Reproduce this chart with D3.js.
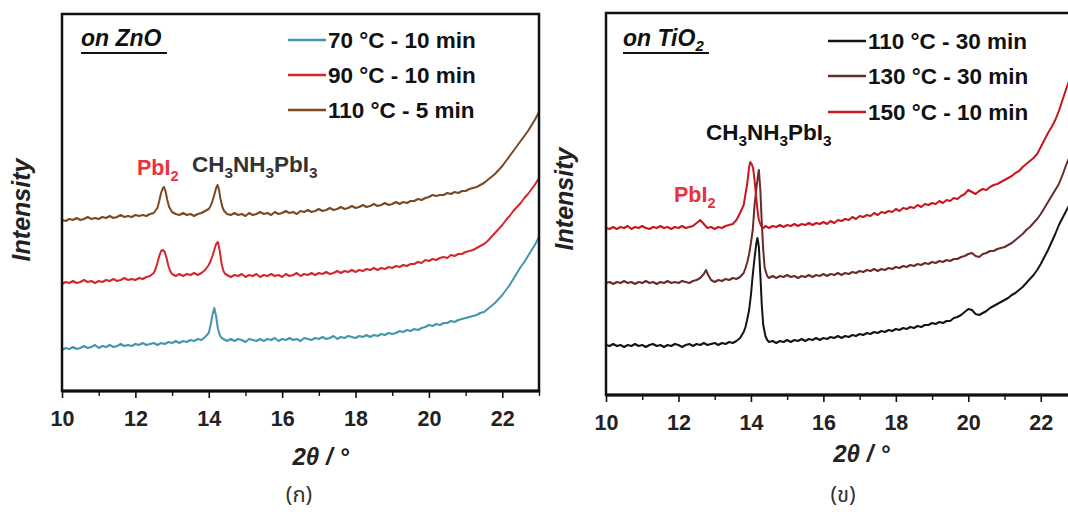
<!DOCTYPE html>
<html><head><meta charset="utf-8">
<script src="https://cdn.jsdelivr.net/npm/d3@7"></script>
<style>
html,body{margin:0;padding:0;background:#fff;}
svg{display:block;font-family:"Liberation Sans",Arial,sans-serif;}
</style></head>
<body><svg id="c" width="1068" height="515"></svg>
<script>
// ---------- DATA ----------
const majorTicks = [10,12,14,16,18,20,22];
const minorTicks = [11,13,15,17,19,21,23];

const znoLabels = ["70 °C - 10 min","90 °C - 10 min","110 °C - 5 min"];
const znoColors = ["#4396ac","#d3272d","#7a4822"];
const tioLabels = ["110 °C - 30 min","130 °C - 30 min","150 °C - 10 min"];
const tioColors = ["#141414","#6b2b2b","#c9151d"];

// ZnO, 70 °C - 10 min
const zno70 = [[10.0,41],[10.1,43],[10.2,42],[10.3,44],[10.4,42],[10.5,43],[10.6,45],[10.7,43],[10.8,44],[10.9,46],[11.0,43],[11.1,45],[11.2,44],[11.3,46],[11.4,44],[11.5,45],[11.6,47],[11.7,45],[11.8,46],[11.9,45],[12.0,47],[12.1,46],[12.2,48],[12.3,46],[12.4,47],[12.5,48],[12.6,46],[12.7,48],[12.8,47],[12.9,49],[13.0,48],[13.1,50],[13.2,48],[13.3,50],[13.4,49],[13.5,51],[13.6,50],[13.7,52],[13.8,51],[13.9,54],[14.0,58],[14.05,66],[14.1,76],[14.15,83],[14.2,75],[14.25,62],[14.3,56],[14.35,53],[14.4,52],[14.5,50],[14.6,52],[14.7,50],[14.8,52],[14.9,51],[15.0,49],[15.1,52],[15.2,51],[15.3,50],[15.4,52],[15.5,50],[15.6,52],[15.7,51],[15.8,53],[15.9,50],[16.0,52],[16.1,51],[16.2,53],[16.3,51],[16.4,52],[16.5,50],[16.6,53],[16.7,52],[16.8,51],[16.9,53],[17.0,52],[17.1,54],[17.2,52],[17.3,53],[17.4,55],[17.5,52],[17.6,54],[17.7,53],[17.8,55],[17.9,54],[18.0,53],[18.1,55],[18.2,54],[18.3,56],[18.4,54],[18.5,56],[18.6,55],[18.7,57],[18.8,56],[18.9,58],[19.0,57],[19.1,58],[19.2,60],[19.3,59],[19.4,61],[19.5,60],[19.6,62],[19.7,61],[19.8,63],[19.9,64],[20.0,66],[20.1,65],[20.2,67],[20.3,66],[20.4,68],[20.5,68],[20.6,70],[20.7,69],[20.8,71],[20.9,72],[21.0,73],[21.1,74],[21.2,75],[21.3,76],[21.4,78],[21.5,79],[21.6,82],[21.7,85],[21.8,88],[21.9,92],[22.0,96],[22.1,101],[22.2,106],[22.3,112],[22.4,118],[22.5,124],[22.6,129],[22.7,135],[22.8,141],[22.9,147],[23.0,154]];

// ZnO, 90 °C - 10 min
const zno90 = [[10.0,107],[10.1,109],[10.2,108],[10.3,110],[10.4,108],[10.5,109],[10.6,111],[10.7,109],[10.8,110],[10.9,108],[11.0,110],[11.1,109],[11.2,111],[11.3,110],[11.4,112],[11.5,110],[11.6,111],[11.7,113],[11.8,111],[11.9,112],[12.0,111],[12.1,113],[12.2,112],[12.3,114],[12.4,115],[12.5,118],[12.55,122],[12.6,128],[12.65,135],[12.7,140],[12.75,141],[12.8,139],[12.85,133],[12.9,125],[12.95,120],[13.0,117],[13.1,115],[13.2,117],[13.3,115],[13.4,117],[13.5,116],[13.6,118],[13.7,116],[13.8,118],[13.9,121],[14.0,126],[14.05,130],[14.1,135],[14.15,141],[14.2,147],[14.25,149],[14.3,140],[14.35,127],[14.4,120],[14.45,117],[14.5,116],[14.6,114],[14.7,116],[14.8,115],[14.9,117],[15.0,114],[15.1,116],[15.2,115],[15.3,117],[15.4,114],[15.5,116],[15.6,115],[15.7,117],[15.8,115],[15.9,116],[16.0,114],[16.1,117],[16.2,115],[16.3,116],[16.4,118],[16.5,115],[16.6,117],[16.7,116],[16.8,118],[16.9,116],[17.0,118],[17.1,117],[17.2,119],[17.3,117],[17.4,118],[17.5,120],[17.6,118],[17.7,120],[17.8,119],[17.9,121],[18.0,119],[18.1,121],[18.2,120],[18.3,122],[18.4,121],[18.5,123],[18.6,121],[18.7,123],[18.8,122],[18.9,124],[19.0,123],[19.1,125],[19.2,124],[19.3,126],[19.4,125],[19.5,127],[19.6,127],[19.7,129],[19.8,128],[19.9,131],[20.0,130],[20.1,132],[20.2,131],[20.3,133],[20.4,134],[20.5,133],[20.6,136],[20.7,135],[20.8,137],[20.9,137],[21.0,139],[21.1,140],[21.2,141],[21.3,143],[21.4,145],[21.5,147],[21.6,150],[21.7,154],[21.8,158],[21.9,162],[22.0,166],[22.1,171],[22.2,175],[22.3,180],[22.4,184],[22.5,188],[22.6,193],[22.7,197],[22.8,202],[22.9,207],[23.0,213]];

// ZnO, 110 °C - 5 min
const zno110 = [[10.0,171],[10.1,170],[10.2,172],[10.3,171],[10.4,173],[10.5,171],[10.6,172],[10.7,174],[10.8,172],[10.9,173],[11.0,172],[11.1,174],[11.2,173],[11.3,175],[11.4,173],[11.5,174],[11.6,176],[11.7,174],[11.8,175],[11.9,174],[12.0,176],[12.1,175],[12.2,176],[12.3,175],[12.4,177],[12.5,178],[12.6,183],[12.65,190],[12.7,198],[12.75,203],[12.78,204],[12.82,200],[12.87,191],[12.92,184],[13.0,179],[13.1,177],[13.2,176],[13.3,178],[13.4,176],[13.5,177],[13.6,175],[13.7,177],[13.8,178],[13.9,180],[14.0,182],[14.05,185],[14.1,190],[14.15,196],[14.2,203],[14.24,206],[14.28,201],[14.32,192],[14.37,184],[14.42,180],[14.5,177],[14.6,176],[14.7,178],[14.8,176],[14.9,177],[15.0,175],[15.1,178],[15.2,176],[15.3,177],[15.4,179],[15.5,177],[15.6,178],[15.7,176],[15.8,179],[15.9,177],[16.0,178],[16.1,180],[16.2,178],[16.3,179],[16.4,177],[16.5,180],[16.6,179],[16.7,181],[16.8,179],[16.9,180],[17.0,182],[17.1,180],[17.2,181],[17.3,183],[17.4,181],[17.5,182],[17.6,184],[17.7,182],[17.8,183],[17.9,185],[18.0,183],[18.1,184],[18.2,186],[18.3,184],[18.4,185],[18.5,187],[18.6,185],[18.7,186],[18.8,188],[18.9,186],[19.0,187],[19.1,189],[19.2,187],[19.3,189],[19.4,188],[19.5,190],[19.6,190],[19.7,192],[19.8,191],[19.9,193],[20.0,194],[20.1,196],[20.2,195],[20.3,196],[20.4,196],[20.5,198],[20.6,197],[20.7,199],[20.8,198],[20.9,200],[21.0,200],[21.1,202],[21.2,203],[21.3,204],[21.4,206],[21.5,208],[21.6,211],[21.7,214],[21.8,217],[21.9,221],[22.0,225],[22.1,230],[22.2,235],[22.3,240],[22.4,245],[22.5,250],[22.6,255],[22.7,260],[22.8,266],[22.9,272],[23.0,279]];

// TiO2, 110 °C - 30 min
const tio110 = [[10.0,50],[10.1,49],[10.2,51],[10.3,49],[10.4,50],[10.5,48],[10.6,50],[10.7,49],[10.8,51],[10.9,49],[11.0,50],[11.1,48],[11.2,50],[11.3,51],[11.4,49],[11.5,50],[11.6,48],[11.7,50],[11.8,49],[11.9,51],[12.0,50],[12.1,48],[12.2,50],[12.3,51],[12.4,49],[12.5,51],[12.6,50],[12.7,52],[12.8,50],[12.9,51],[13.0,52],[13.1,50],[13.2,52],[13.3,51],[13.4,53],[13.5,52],[13.6,54],[13.7,57],[13.75,60],[13.8,63],[13.85,68],[13.9,76],[13.95,85],[14.0,100],[14.05,120],[14.1,137],[14.15,152],[14.18,157],[14.22,148],[14.26,120],[14.3,90],[14.34,70],[14.4,59],[14.45,55],[14.5,53],[14.6,54],[14.7,52],[14.8,54],[14.9,53],[15.0,55],[15.1,53],[15.2,55],[15.3,54],[15.4,56],[15.5,54],[15.6,56],[15.7,55],[15.8,57],[15.9,55],[16.0,57],[16.1,56],[16.2,58],[16.3,57],[16.4,59],[16.5,57],[16.6,59],[16.7,58],[16.8,60],[16.9,59],[17.0,61],[17.1,60],[17.2,62],[17.3,61],[17.4,63],[17.5,62],[17.6,64],[17.7,63],[17.8,65],[17.9,64],[18.0,66],[18.1,65],[18.2,67],[18.3,66],[18.4,68],[18.5,67],[18.6,69],[18.7,68],[18.8,70],[18.9,70],[19.0,72],[19.1,71],[19.2,73],[19.3,72],[19.4,74],[19.5,74],[19.6,77],[19.7,78],[19.8,80],[19.9,83],[20.0,86],[20.1,85],[20.2,81],[20.3,80],[20.4,82],[20.5,84],[20.6,87],[20.7,89],[20.8,91],[20.9,93],[21.0,95],[21.1,97],[21.2,100],[21.3,102],[21.4,105],[21.5,108],[21.6,112],[21.7,116],[21.8,120],[21.9,125],[22.0,131],[22.1,138],[22.2,145],[22.3,153],[22.4,161],[22.5,170],[22.6,177],[22.7,184],[22.8,191],[22.9,198],[23.0,205]];

// TiO2, 130 °C - 30 min
const tio130 = [[10.0,112],[10.1,113],[10.2,111],[10.3,113],[10.4,112],[10.5,114],[10.6,112],[10.7,113],[10.8,111],[10.9,113],[11.0,112],[11.1,114],[11.2,112],[11.3,113],[11.4,111],[11.5,113],[11.6,112],[11.7,114],[11.8,112],[11.9,113],[12.0,112],[12.1,114],[12.2,113],[12.3,112],[12.4,114],[12.5,115],[12.6,117],[12.7,121],[12.76,125],[12.82,120],[12.9,115],[13.0,113],[13.1,115],[13.2,114],[13.3,116],[13.4,115],[13.5,117],[13.6,116],[13.7,118],[13.8,122],[13.85,127],[13.9,133],[13.95,141],[14.0,152],[14.05,165],[14.1,190],[14.15,206],[14.19,218],[14.22,225],[14.26,205],[14.3,172],[14.34,145],[14.38,127],[14.45,119],[14.5,117],[14.6,119],[14.7,117],[14.8,119],[14.9,118],[15.0,120],[15.1,118],[15.2,119],[15.3,117],[15.4,119],[15.5,118],[15.6,120],[15.7,118],[15.8,120],[15.9,119],[16.0,121],[16.1,119],[16.2,121],[16.3,120],[16.4,122],[16.5,120],[16.6,122],[16.7,121],[16.8,123],[16.9,122],[17.0,124],[17.1,123],[17.2,125],[17.3,124],[17.4,126],[17.5,124],[17.6,126],[17.7,125],[17.8,127],[17.9,126],[18.0,128],[18.1,127],[18.2,129],[18.3,128],[18.4,130],[18.5,129],[18.6,131],[18.7,130],[18.8,132],[18.9,131],[19.0,133],[19.1,132],[19.2,134],[19.3,133],[19.4,135],[19.5,134],[19.6,136],[19.7,136],[19.8,138],[19.9,139],[20.0,141],[20.1,142],[20.2,139],[20.3,138],[20.4,141],[20.5,142],[20.6,144],[20.7,144],[20.8,146],[20.9,147],[21.0,148],[21.1,150],[21.2,152],[21.3,155],[21.4,158],[21.5,161],[21.6,165],[21.7,168],[21.8,172],[21.9,176],[22.0,181],[22.1,187],[22.2,193],[22.3,199],[22.4,205],[22.5,211],[22.6,220],[22.7,230],[22.8,239],[22.9,247],[23.0,255]];

// TiO2, 150 °C - 10 min
const tio150 = [[10.0,167],[10.1,166],[10.2,168],[10.3,166],[10.4,168],[10.5,167],[10.6,169],[10.7,166],[10.8,168],[10.9,167],[11.0,169],[11.1,167],[11.2,166],[11.3,168],[11.4,167],[11.5,169],[11.6,167],[11.7,168],[11.8,166],[11.9,168],[12.0,167],[12.1,169],[12.2,167],[12.3,168],[12.4,169],[12.5,172],[12.6,175],[12.7,171],[12.8,167],[12.9,168],[13.0,166],[13.1,168],[13.2,167],[13.3,169],[13.4,170],[13.5,171],[13.6,175],[13.7,182],[13.75,186],[13.8,190],[13.85,201],[13.9,212],[13.95,228],[13.98,233],[14.02,231],[14.06,227],[14.1,215],[14.14,200],[14.18,185],[14.22,175],[14.28,169],[14.35,167],[14.4,169],[14.5,167],[14.6,169],[14.7,168],[14.8,170],[14.9,168],[15.0,170],[15.1,169],[15.2,171],[15.3,169],[15.4,171],[15.5,170],[15.6,172],[15.7,170],[15.8,172],[15.9,171],[16.0,173],[16.1,171],[16.2,174],[16.3,172],[16.4,175],[16.5,174],[16.6,176],[16.7,175],[16.8,178],[16.9,176],[17.0,179],[17.1,178],[17.2,180],[17.3,179],[17.4,182],[17.5,180],[17.6,183],[17.7,182],[17.8,184],[17.9,183],[18.0,186],[18.1,184],[18.2,187],[18.3,186],[18.4,188],[18.5,187],[18.6,190],[18.7,188],[18.8,191],[18.9,190],[19.0,192],[19.1,191],[19.2,194],[19.3,192],[19.4,195],[19.5,194],[19.6,197],[19.7,196],[19.8,199],[19.9,201],[20.0,205],[20.1,203],[20.2,201],[20.3,204],[20.4,206],[20.5,205],[20.6,208],[20.7,210],[20.8,211],[20.9,213],[21.0,215],[21.1,217],[21.2,219],[21.3,222],[21.4,224],[21.5,228],[21.6,231],[21.7,234],[21.8,237],[21.9,241],[22.0,248],[22.1,255],[22.2,262],[22.3,268],[22.4,275],[22.5,284],[22.6,295],[22.7,306],[22.8,316],[22.9,324],[23.0,332]];

// ---------- DRAW ----------
const svg = d3.select("#c");

function panel(cfg){
  const x = d3.scaleLinear().domain([10,23]).range(cfg.xr);
  const y = d3.scaleLinear().domain([0,cfg.ymax]).range(cfg.yr);
  const g = svg.append("g");
  const cid = "clip"+cfg.id;
  svg.append("clipPath").attr("id",cid).append("rect")
    .attr("x",cfg.xr[0]).attr("y",cfg.yr[1]).attr("width",cfg.xr[1]-cfg.xr[0]).attr("height",cfg.yr[0]-cfg.yr[1]);
  const line = d3.line().x(d=>x(d[0])).y(d=>y(d[1]));
  const lg = g.append("g").attr("clip-path",`url(#${cid})`);
  cfg.series.forEach((s,i)=>{
    lg.append("path").datum(s).attr("d",line).attr("fill","none")
      .attr("stroke",cfg.colors[i]).attr("stroke-width",2).attr("stroke-linejoin","round");
  });
  // frame
  g.append("rect").attr("x",x(10)).attr("y",y(cfg.ymax)).attr("width",x(23)-x(10)).attr("height",y(0)-y(cfg.ymax))
    .attr("fill","none").attr("stroke","#111").attr("stroke-width",2.5);
  // axes
  const ax = g.append("g").attr("transform",`translate(0,${y(0)})`)
    .call(d3.axisBottom(x).tickValues(majorTicks).tickSize(7).tickPadding(13).tickFormat(d3.format("d")));
  ax.select(".domain").remove();
  ax.selectAll(".tick line").attr("stroke","#111").attr("stroke-width",1.6);
  ax.selectAll(".tick text").attr("font-size",21.5).attr("font-weight","bold").attr("fill","#222")
    .attr("font-family","Liberation Sans, Arial, sans-serif");
  const mx = g.append("g").attr("transform",`translate(0,${y(0)})`)
    .call(d3.axisBottom(x).tickValues(minorTicks).tickSize(5).tickFormat(""));
  mx.select(".domain").remove();
  mx.selectAll(".tick line").attr("stroke","#111").attr("stroke-width",1.4);
  g.append("line").attr("x1",x(10)).attr("x2",x(23)).attr("y1",y(0)).attr("y2",y(0))
    .attr("stroke","#111").attr("stroke-width",3);
  // axis title
  const t = g.append("text").attr("x",x(17.05)).attr("y",cfg.titleY).attr("text-anchor","middle")
    .attr("font-size",24).attr("font-weight","bold").attr("font-style","italic").attr("fill","#222");
  t.text("2θ / °");
  // y title
  g.append("text").attr("transform",`translate(${cfg.ylabX},${cfg.ylabY}) rotate(-90)`)
    .attr("text-anchor","middle").attr("font-size",25).attr("font-weight","bold").attr("font-style","italic")
    .attr("fill","#222").text("Intensity");
  // panel letter
  g.append("text").attr("x",cfg.letterX).attr("y",502).attr("text-anchor","middle")
    .attr("font-size",22).attr("fill","#333")
    .attr("font-family","Noto Sans Thai, Noto Serif Thai, Tahoma, DejaVu Sans, sans-serif")
    .text(cfg.letter);
  // legend
  cfg.labels.forEach((lab,i)=>{
    const yy = cfg.legY[i];
    g.append("line").attr("x1",cfg.legX).attr("x2",cfg.legX+38).attr("y1",yy).attr("y2",yy)
      .attr("stroke",cfg.colors[i]).attr("stroke-width",2.5);
    g.append("text").attr("x",cfg.legX+40).attr("y",yy+8).attr("font-size",22.5).attr("font-weight","bold")
      .attr("fill","#111").text(lab);
  });
  return {g,x,y};
}

function chem(g, xpos, ypos, parts, color, size){
  const t = g.append("text").attr("x",xpos).attr("y",ypos).attr("font-size",size).attr("font-weight","bold").attr("fill",color);
  parts.forEach(p=>{
    if(p[1]) {
      t.append("tspan").attr("font-size",size*0.68).attr("dy",size*0.28).text(p[0]);
    } else {
      const prevSub = t.node().lastChild && t.node().lastChild.getAttribute("data-sub")==="1";
      t.append("tspan").attr("font-size",size).attr("dy",prevSub ? -size*0.28 : 0).text(p[0]);
    }
    t.node().lastChild.setAttribute("data-sub", p[1]?"1":"0");
  });
  return t;
}
const perov = [["CH",0],["3",1],["NH",0],["3",1],["PbI",0],["3",1]];
const pbi2 = [["PbI",0],["2",1]];

const L = panel({id:1, xr:[62,539], yr:[391,14], ymax:377, series:[zno70,zno90,zno110], colors:znoColors,
  labels:znoLabels, legX:288, legY:[40,75,110], titleY:465, ylabX:30, ylabY:210, letter:"(ก)", letterX:299});
const R = panel({id:2, xr:[606,1077], yr:[395,13], ymax:382, series:[tio110,tio130,tio150], colors:tioColors,
  labels:tioLabels, legX:828, legY:[41,76,112], titleY:462, ylabX:573, ylabY:199, letter:"(ข)", letterX:843});

// panel captions
function caption(g, xx, yy, parts, underlineW){
  const t = g.append("text").attr("x",xx).attr("y",yy).attr("font-size",23).attr("font-weight","bold")
    .attr("font-style","italic").attr("fill","#111");
  parts.forEach(p=>{
    if(p[1]) t.append("tspan").attr("font-size",15).attr("dy",5).text(p[0]);
    else t.append("tspan").text(p[0]);
  });
  g.append("line").attr("x1",xx).attr("x2",xx+underlineW).attr("y1",yy+7).attr("y2",yy+7)
    .attr("stroke","#111").attr("stroke-width",1.8);
}
caption(L.g, 81, 46, [["on ZnO",0]], 86);
caption(R.g, 623, 46, [["on TiO",0],["2",1]], 86);

// peak labels
chem(L.g, 137, 175, pbi2, "#e8333b", 21.5);
chem(L.g, 192, 172, perov, "#333", 22.5);
chem(R.g, 706, 140, perov, "#111", 22.5);
chem(R.g, 674, 202, pbi2, "#e8333b", 21.5);
</script></body></html>
